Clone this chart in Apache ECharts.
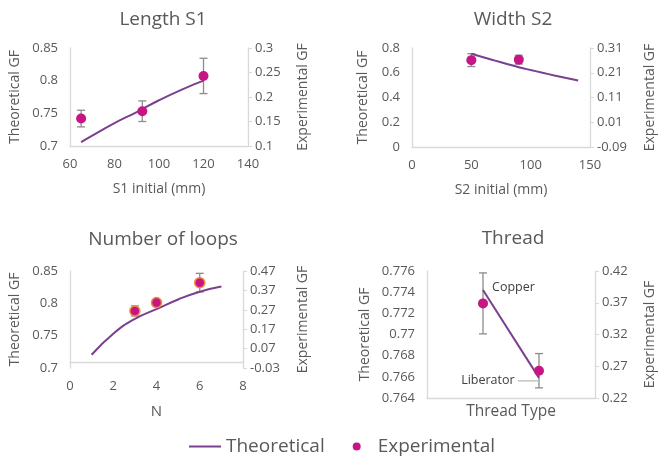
<!DOCTYPE html>
<html lang="en">
<head>
    <meta charset="UTF-8">
    <title>GF charts</title>
    <style>
        html, body { margin: 0; padding: 0; background: #fff; }
        #main { width: 658px; height: 459px; }
    </style>
    <script src="https://cdn.jsdelivr.net/npm/echarts@6/dist/echarts.min.js"></script>
</head>
<body>
<div id="main"></div>
<script>
    // Length S1
    var s1X = [65, 70, 80, 90, 100, 110, 120];
    var s1Theory = [0.706, 0.716, 0.735, 0.752, 0.770, 0.786, 0.800];
    var s1ExpX = [65, 92.5, 120];
    var s1Exp = [0.156, 0.171, 0.243];
    var s1Err = [0.017, 0.021, 0.036];

    // Width S2
    var s2X = [50, 60, 70, 80, 90, 100, 110, 120, 130, 140];
    var s2Theory = [0.754, 0.725, 0.698, 0.671, 0.645, 0.622, 0.600, 0.578, 0.557, 0.537];
    var s2ExpX = [50, 90];
    var s2Exp = [0.261, 0.263];
    var s2Err = [0.026, 0.018];

    // Number of loops
    var loopN = [1, 2, 3, 4, 5, 6, 7];
    var loopTheory = [0.7205, 0.753, 0.776, 0.791, 0.806, 0.818, 0.826];
    var loopExpN = [3, 4, 6];
    var loopExp = [0.264, 0.307, 0.410];
    var loopErr = [0.026, 0.008, 0.048];

    // Thread
    var threadNames = ['Copper', 'Liberator'];
    var threadPos = [1, 2];
    var threadTheory = [0.7742, 0.7659];
    var threadExp = [0.369, 0.263];
    var threadErr = [0.048, 0.027];

    // right axis tick labels that are not multiples of the step
    var s2RightTicks = [-0.09, 0.01, 0.11, 0.21, 0.31];
    var loopRightTicks = [-0.03, 0.07, 0.17, 0.27, 0.37, 0.47];
    var threadRightTicks = [0.22, 0.27, 0.32, 0.37, 0.42];

    var font = 'Open Sans';
    var textColor = '#595959';
    var axisColor = '#d9d9d9';
    var lineColor = '#7b3f8f';
    var dotColor = '#c71585';

    function pairs(xs, ys) {
        return xs.map(function (x, i) { return [x, ys[i]]; });
    }
    function errRows(xs, ys, es) {
        return xs.map(function (x, i) { return [x, ys[i] - es[i], ys[i] + es[i]]; });
    }

    function renderErr(params, api) {
        var x = api.value(0);
        var top = api.coord([x, api.value(2)]);
        var bot = api.coord([x, api.value(1)]);
        var w = 4;
        var st = { stroke: '#8c8c8c', lineWidth: 1.3 };
        return {
            type: 'group',
            children: [
                { type: 'line', shape: { x1: top[0], y1: top[1], x2: bot[0], y2: bot[1] }, style: st },
                { type: 'line', shape: { x1: top[0] - w, y1: top[1], x2: top[0] + w, y2: top[1] }, style: st },
                { type: 'line', shape: { x1: bot[0] - w, y1: bot[1], x2: bot[0] + w, y2: bot[1] }, style: st }
            ]
        };
    }

    function xAx(gi, min, max, interval, name, gap, hideLabels, nameSize) {
        return {
            type: 'value', gridIndex: gi, min: min, max: max, interval: interval,
            name: name, nameLocation: 'middle', nameGap: gap,
            nameTextStyle: { fontFamily: font, fontSize: nameSize || 14, color: textColor },
            axisLine: { show: true, lineStyle: { color: axisColor, width: 1.3 } },
            axisTick: { show: false },
            splitLine: { show: false },
            axisLabel: { show: !hideLabels, fontFamily: font, fontSize: 13, color: textColor, margin: 12 }
        };
    }

    function yAx(gi, pos, min, max, interval, name, gap, custom) {
        var a = {
            type: 'value', gridIndex: gi, position: pos, min: min, max: max,
            name: name, nameLocation: 'middle', nameGap: gap, nameRotate: 90,
            nameTextStyle: { fontFamily: font, fontSize: 14, color: textColor },
            axisLine: { show: true, lineStyle: { color: axisColor, width: 1.3 } },
            axisTick: { show: pos === 'right', length: 4, lineStyle: { color: axisColor } },
            splitLine: { show: false },
            axisLabel: { fontFamily: font, fontSize: 13, color: textColor, margin: pos === 'right' ? 7 : 12 }
        };
        if (custom) {
            a.axisLabel.customValues = custom;
            a.axisTick.customValues = custom;
        } else {
            a.interval = interval;
        }
        return a;
    }

    function theory(xi, yi, data, smooth) {
        return {
            name: 'Theoretical', type: 'line', xAxisIndex: xi, yAxisIndex: yi,
            data: data, smooth: smooth, symbol: 'none', z: 3,
            lineStyle: { color: lineColor, width: 2 }, itemStyle: { color: lineColor }
        };
    }
    function errSeries(xi, yi, data) {
        return {
            name: 'err', type: 'custom', xAxisIndex: xi, yAxisIndex: yi,
            renderItem: renderErr, data: data, z: 2, encode: { x: 0, y: [1, 2] }
        };
    }
    function expSeries(xi, yi, data, border) {
        return {
            name: 'Experimental', type: 'scatter', xAxisIndex: xi, yAxisIndex: yi,
            data: data, symbolSize: 10, z: 4,
            itemStyle: { color: dotColor, borderColor: border || dotColor, borderWidth: border ? 1.5 : 0, opacity: 1 }
        };
    }

    var threadLine = threadPos.map(function (x, i) {
        return {
            value: [x, threadTheory[i]],
            label: i === 0
                ? { show: true, position: 'right', distance: 9, offset: [0, -3], formatter: threadNames[i],
                    fontFamily: font, fontSize: 12.5, color: '#404040' }
                : { show: true, position: 'left', distance: 1, offset: [0, 3],
                    formatter: '{t|' + threadNames[i] + '} {l|}',
                    rich: {
                        t: { fontFamily: font, fontSize: 12.5, color: '#404040' },
                        l: { width: 20, height: 1, backgroundColor: '#a6a6a6' }
                    } }
        };
    });
    var threadSeries = theory(3, 6, threadLine, false);
    threadSeries.symbol = 'circle';
    threadSeries.symbolSize = 0.1;
    threadSeries.showSymbol = true;

    var myChart = echarts.init(document.getElementById('main'));
    var option = {
        animation: false,
        backgroundColor: '#fff',
        title: [
            { text: 'Length S1', left: 158, top: 5, textAlign: 'center' },
            { text: 'Width S2', left: 508, top: 5, textAlign: 'center' },
            { text: 'Number of loops', left: 158, top: 225, textAlign: 'center' },
            { text: 'Thread', left: 508, top: 224, textAlign: 'center' }
        ].map(function (t) {
            t.textStyle = { fontFamily: font, fontSize: 19, fontWeight: 'normal', color: textColor };
            return t;
        }),
        legend: {
            left: 188, top: 437, itemWidth: 32, itemHeight: 8, itemGap: 28, padding: 0,
            data: [
                { name: 'Theoretical', itemStyle: { opacity: 0 } },
                'Experimental'
            ],
            textStyle: { fontFamily: font, fontSize: 19, color: textColor }
        },
        grid: [
            { left: 70, top: 48, width: 178, height: 98 },
            { left: 412, top: 48, width: 180, height: 99 },
            { left: 70, top: 271, width: 173, height: 97 },
            { left: 427, top: 271, width: 171, height: 127 }
        ],
        xAxis: [
            xAx(0, 60, 140, 20, 'S1 initial (mm)', 36),
            xAx(1, 0, 150, 50, 'S2 initial (mm)', 36),
            xAx(2, 0, 8, 2, 'N', 36, false, 15),
            xAx(3, 0, 3, 1, 'Thread Type', 6, true, 15.5)
        ],
        yAxis: [
            yAx(0, 'left', 0.7, 0.85, 0.05, 'Theoretical GF', 48),
            yAx(0, 'right', 0.1, 0.3, 0.05, 'Experimental GF', 48),
            yAx(1, 'left', 0, 0.8, 0.2, 'Theoretical GF', 42),
            yAx(1, 'right', -0.09, 0.31, null, 'Experimental GF', 53, s2RightTicks),
            yAx(2, 'left', 0.7, 0.85, 0.05, 'Theoretical GF', 48),
            yAx(2, 'right', -0.03, 0.47, null, 'Experimental GF', 53, loopRightTicks),
            yAx(3, 'left', 0.764, 0.776, 0.002, 'Theoretical GF', 55),
            yAx(3, 'right', 0.22, 0.42, null, 'Experimental GF', 48, threadRightTicks)
        ],
        series: [
            errSeries(0, 1, errRows(s1ExpX, s1Exp, s1Err)),
            theory(0, 0, pairs(s1X, s1Theory), true),
            expSeries(0, 1, pairs(s1ExpX, s1Exp)),

            errSeries(1, 3, errRows(s2ExpX, s2Exp, s2Err)),
            theory(1, 2, pairs(s2X, s2Theory), true),
            expSeries(1, 3, pairs(s2ExpX, s2Exp)),

            errSeries(2, 5, errRows(loopExpN, loopExp, loopErr)),
            theory(2, 4, pairs(loopN, loopTheory), true),
            expSeries(2, 5, pairs(loopExpN, loopExp), '#f08a3c'),

            errSeries(3, 7, errRows(threadPos, threadExp, threadErr)),
            threadSeries,
            expSeries(3, 7, pairs(threadPos, threadExp))
        ]
    };
    myChart.setOption(option);
</script>
</body>
</html>
